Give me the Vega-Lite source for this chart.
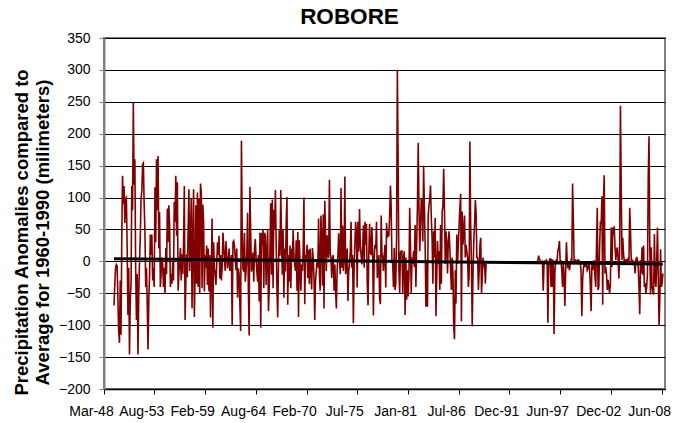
{
"$schema":"https://vega.github.io/schema/vega-lite/v6.json",
"width":561,"height":351,
"autosize":{"type":"none"},
"padding":{"left":104,"top":38,"right":20,"bottom":34},
"background":"white",
"config":{"view":{"stroke":"#808080","strokeWidth":2},"font":"Liberation Sans"},
"title":{"text":"ROBORE","font":"Liberation Sans","fontSize":22.5,"fontWeight":"bold","color":"#000","anchor":"middle","frame":"group","dx":-35,"offset":3},
"datasets":{
"trend":[{"t":"1949-04","v":4.2},{"t":"2008-07","v":-4.2}],
"precip":[
{"t":"1949-04","v":-69},{"t":"1949-05","v":-35},{"t":"1949-06","v":-10},{"t":"1949-07","v":-5},{"t":"1949-08","v":-7},{"t":"1949-09","v":-60},{"t":"1949-10","v":-110},{"t":"1949-11","v":-128},{"t":"1949-12","v":-30},
{"t":"1950-01","v":-115},{"t":"1950-02","v":40},{"t":"1950-03","v":134},{"t":"1950-04","v":90},{"t":"1950-05","v":118},{"t":"1950-06","v":60},{"t":"1950-07","v":98},{"t":"1950-08","v":100},{"t":"1950-09","v":20},{"t":"1950-10","v":-84},{"t":"1950-11","v":-10},{"t":"1950-12","v":-146},
{"t":"1951-01","v":-60},{"t":"1951-02","v":-35},{"t":"1951-03","v":118},{"t":"1951-04","v":80},{"t":"1951-05","v":248},{"t":"1951-06","v":120},{"t":"1951-07","v":160},{"t":"1951-08","v":-10},{"t":"1951-09","v":-92},{"t":"1951-10","v":-20},{"t":"1951-11","v":-146},{"t":"1951-12","v":-50},
{"t":"1952-01","v":0},{"t":"1952-02","v":40},{"t":"1952-03","v":98},{"t":"1952-04","v":110},{"t":"1952-05","v":152},{"t":"1952-06","v":154},{"t":"1952-07","v":90},{"t":"1952-08","v":47},{"t":"1952-09","v":-40},{"t":"1952-10","v":-10},{"t":"1952-11","v":-70},{"t":"1952-12","v":-138},
{"t":"1953-01","v":-60},{"t":"1953-02","v":-20},{"t":"1953-03","v":42},{"t":"1953-04","v":10},{"t":"1953-05","v":42},{"t":"1953-06","v":-30},{"t":"1953-07","v":-10},{"t":"1953-08","v":-40},{"t":"1953-09","v":116},{"t":"1953-10","v":30},{"t":"1953-11","v":160},{"t":"1953-12","v":80},
{"t":"1954-01","v":165},{"t":"1954-02","v":20},{"t":"1954-03","v":77},{"t":"1954-04","v":-40},{"t":"1954-05","v":-20},{"t":"1954-06","v":6},{"t":"1954-07","v":-5},{"t":"1954-08","v":-40},{"t":"1954-09","v":-10},{"t":"1954-10","v":-51},{"t":"1954-11","v":21},{"t":"1954-12","v":-20},
{"t":"1955-01","v":83},{"t":"1955-02","v":30},{"t":"1955-03","v":88},{"t":"1955-04","v":57},{"t":"1955-05","v":-40},{"t":"1955-06","v":-20},{"t":"1955-07","v":-35},{"t":"1955-08","v":0},{"t":"1955-09","v":-30},{"t":"1955-10","v":93},{"t":"1955-11","v":62},{"t":"1955-12","v":134},
{"t":"1956-01","v":40},{"t":"1956-02","v":124},{"t":"1956-03","v":-46},{"t":"1956-04","v":-20},{"t":"1956-05","v":0},{"t":"1956-06","v":21},{"t":"1956-07","v":-30},{"t":"1956-08","v":11},{"t":"1956-09","v":-20},{"t":"1956-10","v":26},{"t":"1956-11","v":118},{"t":"1956-12","v":-92},
{"t":"1957-01","v":-30},{"t":"1957-02","v":11},{"t":"1957-03","v":-25},{"t":"1957-04","v":52},{"t":"1957-05","v":113},{"t":"1957-06","v":-15},{"t":"1957-07","v":40},{"t":"1957-08","v":98},{"t":"1957-09","v":-74},{"t":"1957-10","v":30},{"t":"1957-11","v":113},{"t":"1957-12","v":-87},
{"t":"1958-01","v":-20},{"t":"1958-02","v":88},{"t":"1958-03","v":-35},{"t":"1958-04","v":108},{"t":"1958-05","v":-40},{"t":"1958-06","v":98},{"t":"1958-07","v":-50},{"t":"1958-08","v":122},{"t":"1958-09","v":108},{"t":"1958-10","v":-42},{"t":"1958-11","v":89},{"t":"1958-12","v":60},
{"t":"1959-01","v":-47},{"t":"1959-02","v":10},{"t":"1959-03","v":-10},{"t":"1959-04","v":25},{"t":"1959-05","v":-37},{"t":"1959-06","v":20},{"t":"1959-07","v":-47},{"t":"1959-08","v":10},{"t":"1959-09","v":-88},{"t":"1959-10","v":-20},{"t":"1959-11","v":67},{"t":"1959-12","v":-104},
{"t":"1960-01","v":30},{"t":"1960-02","v":-11},{"t":"1960-03","v":-20},{"t":"1960-04","v":-37},{"t":"1960-05","v":-5},{"t":"1960-06","v":30},{"t":"1960-07","v":10},{"t":"1960-08","v":40},{"t":"1960-09","v":-27},{"t":"1960-10","v":10},{"t":"1960-11","v":-30},{"t":"1960-12","v":-10},
{"t":"1961-01","v":45},{"t":"1961-02","v":25},{"t":"1961-03","v":5},{"t":"1961-04","v":-15},{"t":"1961-05","v":32},{"t":"1961-06","v":10},{"t":"1961-07","v":-11},{"t":"1961-08","v":0},{"t":"1961-09","v":20},{"t":"1961-10","v":-15},{"t":"1961-11","v":-6},{"t":"1961-12","v":10},
{"t":"1962-01","v":-101},{"t":"1962-02","v":30},{"t":"1962-03","v":32},{"t":"1962-04","v":25},{"t":"1962-05","v":5},{"t":"1962-06","v":-14},{"t":"1962-07","v":20},{"t":"1962-08","v":-57},{"t":"1962-09","v":-11},{"t":"1962-10","v":-20},{"t":"1962-11","v":-68},{"t":"1962-12","v":-109},
{"t":"1963-01","v":189},{"t":"1963-02","v":48},{"t":"1963-03","v":-11},{"t":"1963-04","v":-16},{"t":"1963-05","v":45},{"t":"1963-06","v":-32},{"t":"1963-07","v":-16},{"t":"1963-08","v":10},{"t":"1963-09","v":76},{"t":"1963-10","v":-42},{"t":"1963-11","v":-116},{"t":"1963-12","v":117},
{"t":"1964-01","v":45},{"t":"1964-02","v":-16},{"t":"1964-03","v":-6},{"t":"1964-04","v":14},{"t":"1964-05","v":-32},{"t":"1964-06","v":20},{"t":"1964-07","v":35},{"t":"1964-08","v":5},{"t":"1964-09","v":-16},{"t":"1964-10","v":-32},{"t":"1964-11","v":10},{"t":"1964-12","v":-63},
{"t":"1965-01","v":45},{"t":"1965-02","v":-104},{"t":"1965-03","v":45},{"t":"1965-04","v":25},{"t":"1965-05","v":50},{"t":"1965-06","v":-42},{"t":"1965-07","v":45},{"t":"1965-08","v":40},{"t":"1965-09","v":-37},{"t":"1965-10","v":10},{"t":"1965-11","v":50},{"t":"1965-12","v":-78},
{"t":"1966-01","v":-42},{"t":"1966-02","v":25},{"t":"1966-03","v":91},{"t":"1966-04","v":-21},{"t":"1966-05","v":97},{"t":"1966-06","v":-42},{"t":"1966-07","v":81},{"t":"1966-08","v":50},{"t":"1966-09","v":112},{"t":"1966-10","v":30},{"t":"1966-11","v":-42},{"t":"1966-12","v":-88},
{"t":"1967-01","v":-6},{"t":"1967-02","v":50},{"t":"1967-03","v":9},{"t":"1967-04","v":112},{"t":"1967-05","v":30},{"t":"1967-06","v":-21},{"t":"1967-07","v":50},{"t":"1967-08","v":-57},{"t":"1967-09","v":20},{"t":"1967-10","v":-16},{"t":"1967-11","v":60},{"t":"1967-12","v":101},
{"t":"1968-01","v":-68},{"t":"1968-02","v":10},{"t":"1968-03","v":-32},{"t":"1968-04","v":25},{"t":"1968-05","v":-42},{"t":"1968-06","v":20},{"t":"1968-07","v":0},{"t":"1968-08","v":50},{"t":"1968-09","v":10},{"t":"1968-10","v":-5},{"t":"1968-11","v":-15},{"t":"1968-12","v":33},
{"t":"1969-01","v":-46},{"t":"1969-02","v":46},{"t":"1969-03","v":-87},{"t":"1969-04","v":33},{"t":"1969-05","v":-5},{"t":"1969-06","v":-46},{"t":"1969-07","v":-5},{"t":"1969-08","v":-15},{"t":"1969-09","v":20},{"t":"1969-10","v":100},{"t":"1969-11","v":-67},{"t":"1969-12","v":10},
{"t":"1970-01","v":5},{"t":"1970-02","v":26},{"t":"1970-03","v":-26},{"t":"1970-04","v":18},{"t":"1970-05","v":-36},{"t":"1970-06","v":20},{"t":"1970-07","v":-15},{"t":"1970-08","v":-44},{"t":"1970-09","v":21},{"t":"1970-10","v":5},{"t":"1970-11","v":-26},{"t":"1970-12","v":-92},
{"t":"1971-01","v":-30},{"t":"1971-02","v":-15},{"t":"1971-03","v":0},{"t":"1971-04","v":-10},{"t":"1971-05","v":67},{"t":"1971-06","v":-18},{"t":"1971-07","v":-46},{"t":"1971-08","v":72},{"t":"1971-09","v":36},{"t":"1971-10","v":-38},{"t":"1971-11","v":74},{"t":"1971-12","v":-74},
{"t":"1972-01","v":95},{"t":"1972-02","v":41},{"t":"1972-03","v":-15},{"t":"1972-04","v":41},{"t":"1972-05","v":10},{"t":"1972-06","v":5},{"t":"1972-07","v":128},{"t":"1972-08","v":15},{"t":"1972-09","v":5},{"t":"1972-10","v":-26},{"t":"1972-11","v":5},{"t":"1972-12","v":10},
{"t":"1973-01","v":-46},{"t":"1973-02","v":-5},{"t":"1973-03","v":-46},{"t":"1973-04","v":-74},{"t":"1973-05","v":-15},{"t":"1973-06","v":10},{"t":"1973-07","v":44},{"t":"1973-08","v":5},{"t":"1973-09","v":-20},{"t":"1973-10","v":115},{"t":"1973-11","v":-10},{"t":"1973-12","v":56},
{"t":"1974-01","v":-15},{"t":"1974-02","v":5},{"t":"1974-03","v":133},{"t":"1974-04","v":-20},{"t":"1974-05","v":-5},{"t":"1974-06","v":20},{"t":"1974-07","v":-62},{"t":"1974-08","v":-15},{"t":"1974-09","v":-5},{"t":"1974-10","v":15},{"t":"1974-11","v":62},{"t":"1974-12","v":-10},
{"t":"1975-01","v":10},{"t":"1975-02","v":-97},{"t":"1975-03","v":-15},{"t":"1975-04","v":28},{"t":"1975-05","v":62},{"t":"1975-06","v":46},{"t":"1975-07","v":-41},{"t":"1975-08","v":62},{"t":"1975-09","v":15},{"t":"1975-10","v":82},{"t":"1975-11","v":26},{"t":"1975-12","v":10},
{"t":"1976-01","v":-5},{"t":"1976-02","v":20},{"t":"1976-03","v":56},{"t":"1976-04","v":-10},{"t":"1976-05","v":62},{"t":"1976-06","v":26},{"t":"1976-07","v":59},{"t":"1976-08","v":-36},{"t":"1976-09","v":-69},{"t":"1976-10","v":10},{"t":"1976-11","v":59},{"t":"1976-12","v":15},
{"t":"1977-01","v":10},{"t":"1977-02","v":54},{"t":"1977-03","v":15},{"t":"1977-04","v":-85},{"t":"1977-05","v":5},{"t":"1977-06","v":26},{"t":"1977-07","v":20},{"t":"1977-08","v":62},{"t":"1977-09","v":-26},{"t":"1977-10","v":-5},{"t":"1977-11","v":10},{"t":"1977-12","v":-59},
{"t":"1978-01","v":-67},{"t":"1978-02","v":72},{"t":"1978-03","v":15},{"t":"1978-04","v":5},{"t":"1978-05","v":-15},{"t":"1978-06","v":10},{"t":"1978-07","v":26},{"t":"1978-08","v":-41},{"t":"1978-09","v":60},{"t":"1978-10","v":37},{"t":"1978-11","v":47},{"t":"1978-12","v":39},
{"t":"1979-01","v":72},{"t":"1979-02","v":119},{"t":"1979-03","v":88},{"t":"1979-04","v":0},{"t":"1979-05","v":-4},{"t":"1979-06","v":-40},{"t":"1979-07","v":21},{"t":"1979-08","v":-45},{"t":"1979-09","v":-35},{"t":"1979-10","v":37},{"t":"1979-11","v":300},{"t":"1979-12","v":160},
{"t":"1980-01","v":-15},{"t":"1980-02","v":-50},{"t":"1980-03","v":14},{"t":"1980-04","v":16},{"t":"1980-05","v":16},{"t":"1980-06","v":-50},{"t":"1980-07","v":5},{"t":"1980-08","v":16},{"t":"1980-09","v":-84},{"t":"1980-10","v":6},{"t":"1980-11","v":-60},{"t":"1980-12","v":-14},
{"t":"1981-01","v":-55},{"t":"1981-02","v":-20},{"t":"1981-03","v":84},{"t":"1981-04","v":26},{"t":"1981-05","v":-50},{"t":"1981-06","v":6},{"t":"1981-07","v":-4},{"t":"1981-08","v":16},{"t":"1981-09","v":-9},{"t":"1981-10","v":57},{"t":"1981-11","v":-40},{"t":"1981-12","v":26},
{"t":"1982-01","v":88},{"t":"1982-02","v":186},{"t":"1982-03","v":88},{"t":"1982-04","v":16},{"t":"1982-05","v":52},{"t":"1982-06","v":98},{"t":"1982-07","v":93},{"t":"1982-08","v":31},{"t":"1982-09","v":150},{"t":"1982-10","v":88},{"t":"1982-11","v":26},{"t":"1982-12","v":-71},
{"t":"1983-01","v":1},{"t":"1983-02","v":-71},{"t":"1983-03","v":72},{"t":"1983-04","v":88},{"t":"1983-05","v":98},{"t":"1983-06","v":119},{"t":"1983-07","v":68},{"t":"1983-08","v":37},{"t":"1983-09","v":-35},{"t":"1983-10","v":47},{"t":"1983-11","v":6},{"t":"1983-12","v":68},
{"t":"1984-01","v":-86},{"t":"1984-02","v":-24},{"t":"1984-03","v":32},{"t":"1984-04","v":-4},{"t":"1984-05","v":16},{"t":"1984-06","v":-45},{"t":"1984-07","v":57},{"t":"1984-08","v":-35},{"t":"1984-09","v":78},{"t":"1984-10","v":86},{"t":"1984-11","v":145},{"t":"1984-12","v":83},
{"t":"1985-01","v":-4},{"t":"1985-02","v":47},{"t":"1985-03","v":26},{"t":"1985-04","v":-19},{"t":"1985-05","v":32},{"t":"1985-06","v":47},{"t":"1985-07","v":21},{"t":"1985-08","v":-14},{"t":"1985-09","v":-45},{"t":"1985-10","v":6},{"t":"1985-11","v":-19},{"t":"1985-12","v":-102},
{"t":"1986-01","v":-122},{"t":"1986-02","v":-14},{"t":"1986-03","v":-66},{"t":"1986-04","v":42},{"t":"1986-05","v":-4},{"t":"1986-06","v":26},{"t":"1986-07","v":57},{"t":"1986-08","v":83},{"t":"1986-09","v":106},{"t":"1986-10","v":-94},{"t":"1986-11","v":78},{"t":"1986-12","v":26},
{"t":"1987-01","v":47},{"t":"1987-02","v":72},{"t":"1987-03","v":6},{"t":"1987-04","v":26},{"t":"1987-05","v":16},{"t":"1987-06","v":6},{"t":"1987-07","v":-40},{"t":"1987-08","v":-24},{"t":"1987-09","v":188},{"t":"1987-10","v":57},{"t":"1987-11","v":-4},{"t":"1987-12","v":-102},
{"t":"1988-01","v":-19},{"t":"1988-02","v":32},{"t":"1988-03","v":57},{"t":"1988-04","v":96},{"t":"1988-05","v":78},{"t":"1988-06","v":6},{"t":"1988-07","v":6},{"t":"1988-08","v":-45},{"t":"1988-09","v":-14},{"t":"1988-10","v":26},{"t":"1988-11","v":37},{"t":"1988-12","v":-50},
{"t":"1989-01","v":-24},{"t":"1989-02","v":6},{"t":"1989-03","v":-9},{"t":"1989-04","v":1},{"t":"1989-05","v":-35},{"t":"1989-06","v":-4},
{"t":"1992-01","v":null},
{"t":"1994-12","v":0},
{"t":"1995-01","v":1},{"t":"1995-02","v":9},{"t":"1995-03","v":4},{"t":"1995-04","v":2},{"t":"1995-05","v":0},{"t":"1995-06","v":-1},{"t":"1995-07","v":0},{"t":"1995-08","v":-46},{"t":"1995-09","v":-4},{"t":"1995-10","v":0},{"t":"1995-11","v":-1},{"t":"1995-12","v":2},
{"t":"1996-01","v":0},{"t":"1996-02","v":-96},{"t":"1996-03","v":-4},{"t":"1996-04","v":2},{"t":"1996-05","v":5},{"t":"1996-06","v":-40},{"t":"1996-07","v":4},{"t":"1996-08","v":-40},{"t":"1996-09","v":2},{"t":"1996-10","v":-114},{"t":"1996-11","v":-19},{"t":"1996-12","v":0},
{"t":"1997-01","v":2},{"t":"1997-02","v":2},{"t":"1997-03","v":17},{"t":"1997-04","v":22},{"t":"1997-05","v":32},{"t":"1997-06","v":-4},{"t":"1997-07","v":2},{"t":"1997-08","v":-14},{"t":"1997-09","v":-40},{"t":"1997-10","v":-4},{"t":"1997-11","v":-24},{"t":"1997-12","v":-70},
{"t":"1998-01","v":-14},{"t":"1998-02","v":30},{"t":"1998-03","v":2},{"t":"1998-04","v":-11},{"t":"1998-05","v":-5},{"t":"1998-06","v":-14},{"t":"1998-07","v":-4},{"t":"1998-08","v":2},{"t":"1998-09","v":0},{"t":"1998-10","v":122},{"t":"1998-11","v":63},{"t":"1998-12","v":-1},
{"t":"1999-01","v":2},{"t":"1999-02","v":2},{"t":"1999-03","v":1},{"t":"1999-04","v":-1},{"t":"1999-05","v":2},{"t":"1999-06","v":2},{"t":"1999-07","v":0},{"t":"1999-08","v":-1},{"t":"1999-09","v":-16},{"t":"1999-10","v":-86},{"t":"1999-11","v":-30},{"t":"1999-12","v":-11},
{"t":"2000-01","v":-4},{"t":"2000-02","v":-9},{"t":"2000-03","v":-1},{"t":"2000-04","v":-5},{"t":"2000-05","v":-14},{"t":"2000-06","v":-11},{"t":"2000-07","v":-4},{"t":"2000-08","v":-10},{"t":"2000-09","v":-40},{"t":"2000-10","v":-78},{"t":"2000-11","v":-4},{"t":"2000-12","v":-14},
{"t":"2001-01","v":-5},{"t":"2001-02","v":2},{"t":"2001-03","v":-24},{"t":"2001-04","v":-40},{"t":"2001-05","v":22},{"t":"2001-06","v":84},{"t":"2001-07","v":-45},{"t":"2001-08","v":-40},{"t":"2001-09","v":22},{"t":"2001-10","v":63},{"t":"2001-11","v":58},{"t":"2001-12","v":102},
{"t":"2002-01","v":-68},{"t":"2002-02","v":99},{"t":"2002-03","v":135},{"t":"2002-04","v":-19},{"t":"2002-05","v":-9},{"t":"2002-06","v":-21},{"t":"2002-07","v":-45},{"t":"2002-08","v":-29},{"t":"2002-09","v":-40},{"t":"2002-10","v":-50},{"t":"2002-11","v":-34},{"t":"2002-12","v":53},
{"t":"2003-01","v":-9},{"t":"2003-02","v":53},{"t":"2003-03","v":42},{"t":"2003-04","v":55},{"t":"2003-05","v":22},{"t":"2003-06","v":2},{"t":"2003-07","v":17},{"t":"2003-08","v":22},{"t":"2003-09","v":2},{"t":"2003-10","v":-27},{"t":"2003-11","v":22},{"t":"2003-12","v":244},
{"t":"2004-01","v":114},{"t":"2004-02","v":2},{"t":"2004-03","v":37},{"t":"2004-04","v":12},{"t":"2004-05","v":0},{"t":"2004-06","v":2},{"t":"2004-07","v":0},{"t":"2004-08","v":2},{"t":"2004-09","v":0},{"t":"2004-10","v":4},{"t":"2004-11","v":2},{"t":"2004-12","v":84},
{"t":"2005-01","v":48},{"t":"2005-02","v":-1},{"t":"2005-03","v":2},{"t":"2005-04","v":-1},{"t":"2005-05","v":0},{"t":"2005-06","v":-1},{"t":"2005-07","v":-19},{"t":"2005-08","v":2},{"t":"2005-09","v":7},{"t":"2005-10","v":2},{"t":"2005-11","v":-9},{"t":"2005-12","v":-40},
{"t":"2006-01","v":-83},{"t":"2006-02","v":2},{"t":"2006-03","v":-19},{"t":"2006-04","v":22},{"t":"2006-05","v":-21},{"t":"2006-06","v":25},{"t":"2006-07","v":-40},{"t":"2006-08","v":-34},{"t":"2006-09","v":-50},{"t":"2006-10","v":-40},{"t":"2006-11","v":-19},{"t":"2006-12","v":130},
{"t":"2007-01","v":196},{"t":"2007-02","v":22},{"t":"2007-03","v":-52},{"t":"2007-04","v":22},{"t":"2007-05","v":-40},{"t":"2007-06","v":-47},{"t":"2007-07","v":-52},{"t":"2007-08","v":43},{"t":"2007-09","v":-29},{"t":"2007-10","v":-40},{"t":"2007-11","v":2},{"t":"2007-12","v":53},
{"t":"2008-01","v":-29},{"t":"2008-02","v":-101},{"t":"2008-03","v":-60},{"t":"2008-04","v":19},{"t":"2008-05","v":-40},{"t":"2008-06","v":-34},{"t":"2008-07","v":-19}
]},
"encoding":{
  "x":{"field":"t","type":"temporal",
   "scale":{"type":"utc","domain":[{"year":1948,"month":3,"date":1,"utc":true},{"year":2008,"month":9,"date":22,"utc":true}],"nice":false},
   "axis":{"title":null,"grid":false,"format":"%b-%y",
    "values":[{"year":1948,"month":3,"date":1,"hours":12,"utc":true},{"year":1953,"month":8,"date":1,"hours":12,"utc":true},{"year":1959,"month":2,"date":1,"hours":12,"utc":true},{"year":1964,"month":8,"date":1,"hours":12,"utc":true},{"year":1970,"month":2,"date":1,"hours":12,"utc":true},{"year":1975,"month":7,"date":1,"hours":12,"utc":true},{"year":1981,"month":1,"date":1,"hours":12,"utc":true},{"year":1986,"month":7,"date":1,"hours":12,"utc":true},{"year":1991,"month":12,"date":1,"hours":12,"utc":true},{"year":1997,"month":6,"date":1,"hours":12,"utc":true},{"year":2002,"month":12,"date":1,"hours":12,"utc":true},{"year":2008,"month":6,"date":1,"hours":12,"utc":true}],
    "domainColor":"#000","domainWidth":1.5,"tickColor":"#000","tickSize":5,"tickWidth":1,
    "labelFont":"Liberation Sans","labelFontSize":14,"labelColor":"#000","labelPadding":10,"labelFlush":false,"labelOverlap":false,"labelBound":false,"labelOffset":-13}},
  "y":{"field":"v","type":"quantitative",
   "scale":{"domain":[-200,350],"nice":false,"zero":false},
   "axis":{"values":[-200,-150,-100,-50,0,50,100,150,200,250,300,350],"labelOverlap":false,
    "title":["Precipitation Anomalies compared to","Average for 1960-1990 (milimeters)"],
    "titleFont":"Liberation Sans","titleFontSize":18.5,"titleFontWeight":"bold","titleColor":"#000",
    "titleAngle":-90,"titleX":-77,"titleY":194,"titleAlign":"center","titleBaseline":"alphabetic","titleLineHeight":21.5,
    "grid":true,"gridColor":"#000","gridWidth":1,
    "domainColor":"#808080","domainWidth":2,"tickColor":"#808080","tickSize":5,"tickWidth":1,
    "labelFont":"Liberation Sans","labelFontSize":14,"labelColor":"#000","labelPadding":9}}
},
"layer":[
{"data":{"name":"precip"},
 "mark":{"type":"line","color":"#800000","strokeWidth":1.6}},
{"data":{"name":"trend"},
 "mark":{"type":"line","color":"#000","strokeWidth":3}}
]
}
